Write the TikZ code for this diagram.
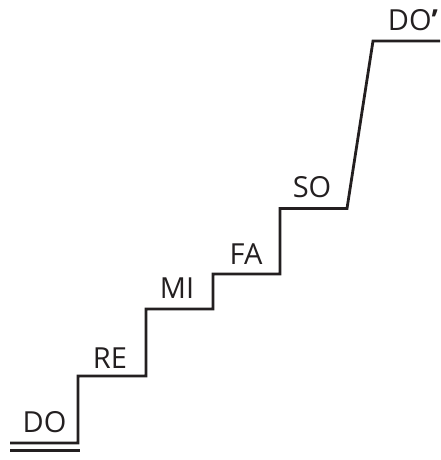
\documentclass[tikz,border=0pt]{standalone}
\usepackage{fontspec}
\setmainfont{Open Sans}
\definecolor{ink}{HTML}{231F20}
\begin{document}
\begin{tikzpicture}[x=1pt,y=-1pt,
  stair/.style={draw=ink,line width=2.8pt,line join=miter},
  lbl/.style={text=ink,font=\fontsize{29}{33}\selectfont,anchor=base,inner sep=0pt}]
\useasboundingbox (0,0) rectangle (440,460);
\draw[stair] (10,443) -- (78,443) -- (78,376) -- (146,376) -- (146,309) -- (213,309)
  -- (213,274) -- (280,274) -- (280,208.5) -- (347,208.5) -- (373,41) -- (440,41);
\draw[stair] (10,450.5) -- (80,450.5);
\node[lbl] (do) at (44.5,432) {DO};
\node[lbl] (re) at (110,368) {RE};
\node[lbl] (mi) at (177,298) {MI};
\node[lbl] (fa) at (246,264) {FA};
\node[lbl] (so) at (312,197) {SO};
\node[lbl] (dop) at (413,31) {DO\textbf{’}};
\end{tikzpicture}
\end{document}
